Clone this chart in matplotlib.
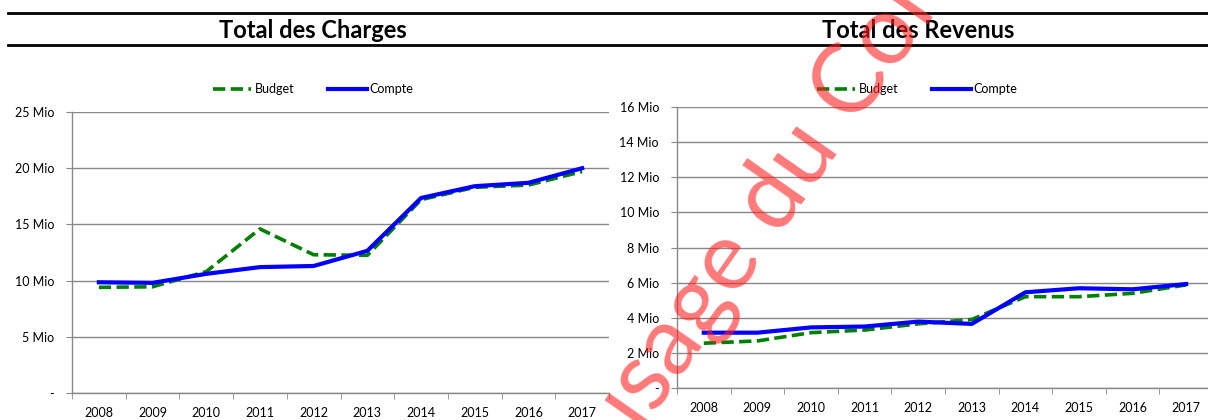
import numpy as np
import matplotlib.pyplot as plt

years = ['2008', '2009', '2010', '2011', '2012', '2013', '2014', '2015', '2016', '2017']

# Total des Charges (Mio)
charges_budget = [9.4, 9.45, 10.8, 14.6, 12.3, 12.25, 17.2, 18.3, 18.5, 19.7]
charges_compte = [9.85, 9.8, 10.6, 11.2, 11.3, 12.65, 17.35, 18.4, 18.7, 20.0]

# Total des Revenus (Mio)
revenus_budget = [2.55, 2.68, 3.15, 3.3, 3.65, 3.9, 5.2, 5.2, 5.39, 5.87]
revenus_compte = [3.15, 3.15, 3.45, 3.5, 3.78, 3.65, 5.45, 5.68, 5.62, 5.92]

charges_ticks = [0, 5, 10, 15, 20, 25]
revenus_ticks = [0, 2, 4, 6, 8, 10, 12, 14, 16]

plt.rcParams['font.family'] = ['Lato', 'DejaVu Sans']

W, H = 1208, 420
fig = plt.figure(figsize=(W / 100, H / 100), dpi=100)


def px(x0, y0, x1, y1):
    # pixel box -> figure fraction rect
    return [x0 / W, 1 - y1 / H, (x1 - x0) / W, (y1 - y0) / H]


def draw_panel(rect, budget, compte, ticks, title, title_x, legend_x):
    ax = fig.add_axes(rect)
    x = np.arange(len(years))
    ax.plot(x, budget, color='#008000', lw=2.6, ls=(0, (3.4, 1.5)), label='Budget',
            dash_capstyle='butt')
    ax.plot(x, compte, color='#0000ff', lw=3, label='Compte')
    ax.set_xlim(-0.5, len(years) - 0.5)
    ax.set_ylim(ticks[0], ticks[-1])
    ax.set_yticks(ticks)
    ax.set_yticklabels(['-' if t == 0 else f'{t} Mio' for t in ticks])
    ax.set_xticks(x)
    ax.set_xticklabels(years)
    ax.set_xticks(np.arange(-0.5, len(years)), minor=True)
    ax.tick_params(axis='x', which='major', length=0, pad=10, labelsize=9)
    ax.tick_params(axis='x', which='minor', length=4, color='#888888', direction='out')
    ax.tick_params(axis='y', length=4, color='#888888', pad=9, labelsize=9)
    ax.grid(axis='y', color='#888888', lw=1)
    ax.set_axisbelow(True)
    for s in ['top', 'right']:
        ax.spines[s].set_visible(False)
    for s in ['left', 'bottom']:
        ax.spines[s].set_color('#888888')
        ax.spines[s].set_linewidth(1)
    ax.legend(loc='center', bbox_to_anchor=(legend_x / W, 1 - 89 / H),
              bbox_transform=fig.transFigure, ncol=2, frameon=False,
              fontsize=9, handlelength=3.1, handletextpad=0.25, columnspacing=2.7)
    fig.text(title_x / W, 1 - 31 / H, title, ha='center', va='center',
             fontsize=17, fontweight='bold')
    return ax


draw_panel(px(72, 112, 609, 393), charges_budget, charges_compte, charges_ticks,
           'Total des Charges', 313, 313)
draw_panel(px(677, 107, 1213, 388), revenus_budget, revenus_compte, revenus_ticks,
           'Total des Revenus', 918, 917)

# horizontal rules around the titles
for yl in [13, 45]:
    fig.add_artist(plt.Line2D([8 / W, 1], [1 - yl / H] * 2, color='black', lw=2,
                              transform=fig.transFigure))

# watermark
fig.text(623 / W, 1 - 460 / H, 'usage du Conseil', rotation=55, rotation_mode='anchor',
         ha='left', va='baseline', fontsize=70, color='#ff2020', alpha=0.6,
         family=['Lato', 'DejaVu Sans'])

fig.savefig('out.png', dpi=100)
